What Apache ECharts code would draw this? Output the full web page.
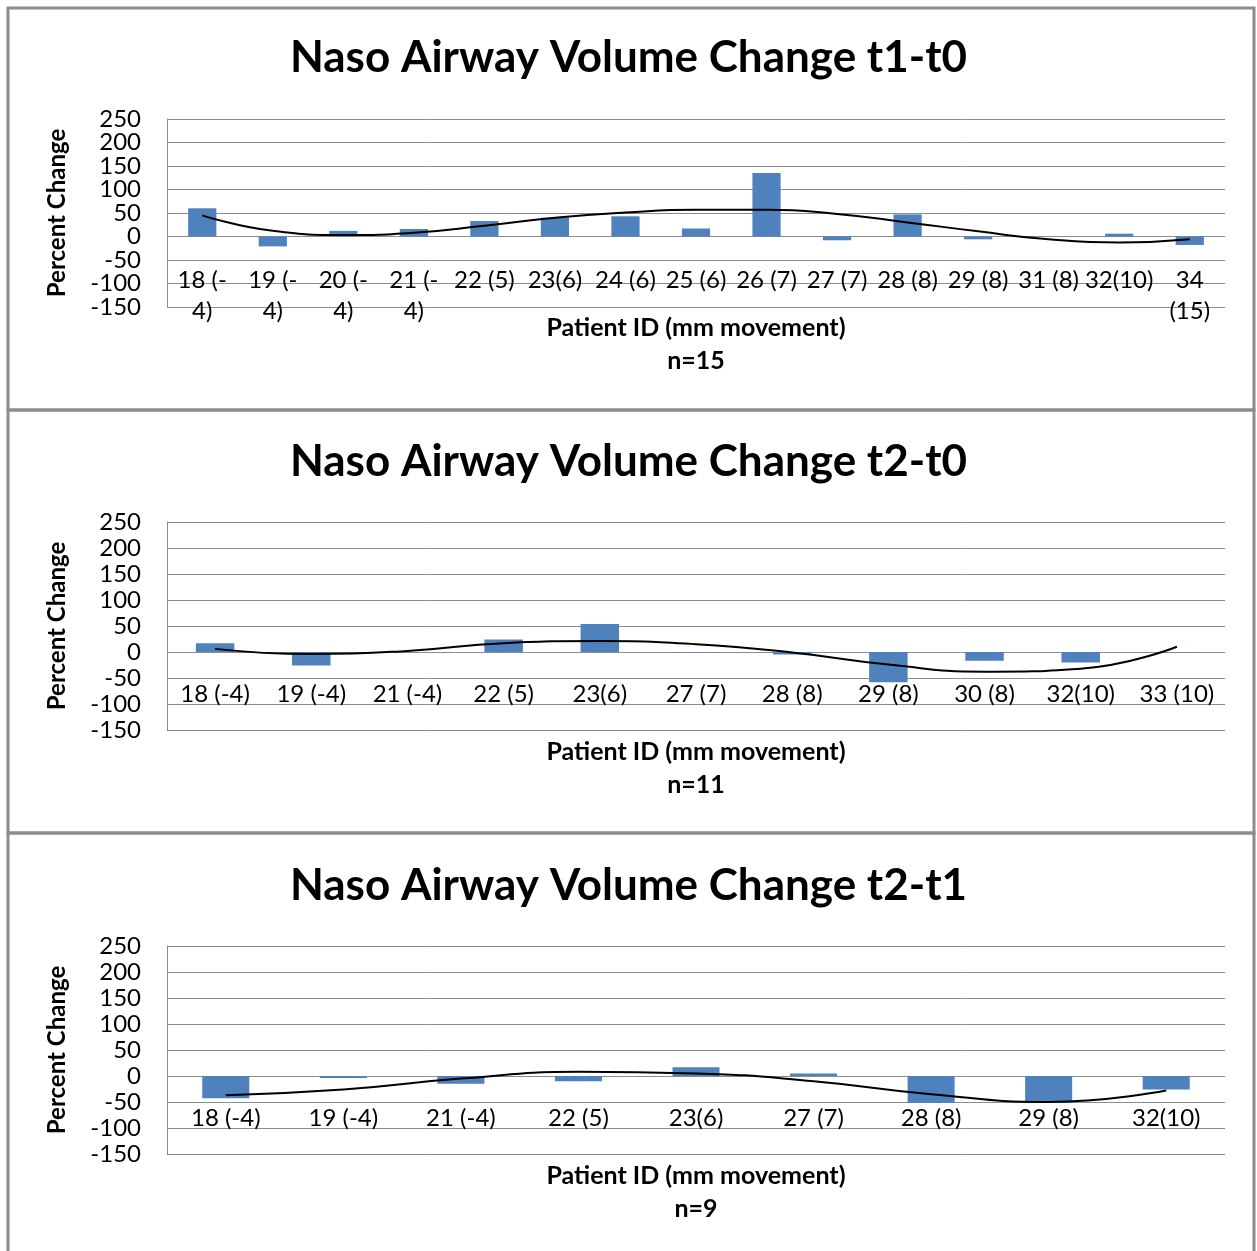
<!DOCTYPE html>
<html>
<head>
<meta charset="utf-8">
<title>Naso Airway Volume Change</title>
<script src="https://cdn.jsdelivr.net/npm/echarts@6/dist/echarts.min.js"></script>
<style>
    html, body { margin: 0; padding: 0; background: #fff; }
    #chart { width: 1257px; height: 1251px; }
</style>
</head>
<body>
<div id="chart"></div>
<script>
// t1-t0
var idsT1T0 = ['18 (-4)', '19 (-4)', '20 (-4)', '21 (-4)', '22 (5)', '23(6)', '24 (6)', '25 (6)',
    '26 (7)', '27 (7)', '28 (8)', '29 (8)', '31 (8)', '32(10)', '34 (15)'];
var changeT1T0 = [60, -21, 12, 16, 33, 40, 43, 17, 135, -8, 47, -6, 0, 6, -18];
var trendT1T0 = [45, 12, 3, 8, 23, 40, 51, 57, 57, 48, 30, 11, -6, -13, -6];

// t2-t0
var idsT2T0 = ['18 (-4)', '19 (-4)', '21 (-4)', '22 (5)', '23(6)', '27 (7)', '28 (8)', '29 (8)',
    '30 (8)', '32(10)', '33 (10)'];
var changeT2T0 = [17, -26, 0, 24, 54, -1, -5, -58, -17, -20, -1];
var trendT2T0 = [6, -4, 2, 17, 21, 15, -1, -24, -38, -32, 10];

// t2-t1
var idsT2T1 = ['18 (-4)', '19 (-4)', '21 (-4)', '22 (5)', '23(6)', '27 (7)', '28 (8)', '29 (8)', '32(10)'];
var changeT2T1 = [-43, -4, -15, -10, 17, 5, -52, -52, -26];
var trendT2T1 = [-37, -26, -5, 8, 5, -10, -35, -50, -28];

var yTicks = { min: -150, max: 250, interval: 50 };

var panels = [
    { title: 'Naso Airway Volume Change t1-t0', n: 'n=15', ids: idsT1T0, values: changeT1T0, trend: trendT1T0,
      titleTop: 33, gridTop: 119, gridHeight: 188, labelMargin: 28, nameGap: 75, wrap: true },
    { title: 'Naso Airway Volume Change t2-t0', n: 'n=11', ids: idsT2T0, values: changeT2T0, trend: trendT2T0,
      titleTop: 437, gridTop: 522, gridHeight: 208, labelMargin: 27, nameGap: 83, wrap: false },
    { title: 'Naso Airway Volume Change t2-t1', n: 'n=9', ids: idsT2T1, values: changeT2T1, trend: trendT2T1,
      titleTop: 861, gridTop: 946, gridHeight: 208, labelMargin: 27, nameGap: 83, wrap: false }
];

var font = 'Lato, "Open Sans", sans-serif';
var gridColor = '#8c8c8c';
var tickLabelStyle = { fontFamily: font, fontSize: 24, color: '#000' };

// excel wraps the long labels in the first chart
function wrapLabel(value) {
    if (value.length < 7) return value;
    if (value.indexOf('(-') >= 0) return value.replace('(-', '(-\n');
    return value.replace(' ', '\n');
}

var titles = [], grids = [], xAxes = [], yAxes = [], series = [];

panels.forEach(function (p, i) {
    // category labels sit under the zero line, not under the plot
    var zeroOffset = -p.gridHeight * (0 - yTicks.min) / (yTicks.max - yTicks.min);

    titles.push({
        text: p.title,
        left: 'center',
        top: p.titleTop,
        padding: 0,
        textStyle: { fontFamily: font, fontSize: 44, fontWeight: 'bold', color: '#000', lineHeight: 50 }
    });
    grids.push({ left: 167, right: 32, top: p.gridTop, height: p.gridHeight, outerBoundsMode: 'none' });
    xAxes.push({
        type: 'category',
        gridIndex: i,
        data: p.ids,
        position: 'bottom',
        offset: zeroOffset,
        axisLine: { show: false, onZero: false },
        axisTick: { show: false },
        axisLabel: Object.assign({
            interval: 0,
            margin: p.labelMargin,
            lineHeight: 31,
            formatter: p.wrap ? wrapLabel : null
        }, tickLabelStyle),
        name: 'Patient ID (mm movement)\n' + p.n,
        nameLocation: 'middle',
        nameGap: p.nameGap,
        nameMoveOverlap: false,
        nameTextStyle: { fontFamily: font, fontSize: 25, fontWeight: 'bold', color: '#000', lineHeight: 33 }
    });
    yAxes.push({
        type: 'value',
        gridIndex: i,
        position: 'left',
        min: yTicks.min,
        max: yTicks.max,
        interval: yTicks.interval,
        axisLine: { show: true, lineStyle: { color: gridColor, width: 1 } },
        axisTick: { show: false },
        splitLine: { show: true, lineStyle: { color: gridColor, width: 1 } },
        axisLabel: Object.assign({ margin: 26, showMinLabel: true, showMaxLabel: true }, tickLabelStyle),
        name: 'Percent Change',
        nameLocation: 'middle',
        nameRotate: 90,
        nameGap: 98,
        nameTextStyle: { fontFamily: font, fontSize: 24, fontWeight: 'bold', color: '#000' }
    });
    series.push({
        type: 'bar',
        xAxisIndex: i,
        yAxisIndex: i,
        data: p.values,
        barWidth: '40%',
        itemStyle: { color: '#4f81bd' },
        silent: true
    });
    series.push({
        type: 'line',
        xAxisIndex: i,
        yAxisIndex: i,
        data: p.trend,
        smooth: true,
        showSymbol: false,
        lineStyle: { color: '#000', width: 2 },
        z: 5,
        silent: true
    });
});

// the first chart is short, so echarts drops the labels next to 250 and -150;
// a bare second axis on the same grid puts them back
yAxes.push({
    type: 'value',
    gridIndex: 0,
    position: 'left',
    min: yTicks.min,
    max: yTicks.max,
    interval: yTicks.interval,
    axisLine: { show: false },
    axisTick: { show: false },
    splitLine: { show: false },
    axisLabel: Object.assign({
        margin: 26,
        showMinLabel: false,
        showMaxLabel: false,
        formatter: function (v) {
            return (v === yTicks.max - yTicks.interval || v === yTicks.min + yTicks.interval) ? String(v) : '';
        }
    }, tickLabelStyle)
});

// panel frames
var frames = [[8, 8, 1246, 402], [8, 410, 1246, 423], [8, 833, 1246, 430]].map(function (r) {
    return {
        type: 'rect',
        shape: { x: r[0], y: r[1], width: r[2], height: r[3] },
        style: { fill: 'none', stroke: '#8c8c8c', lineWidth: 3 },
        silent: true
    };
});

var chart = echarts.init(document.getElementById('chart'), null, { renderer: 'canvas' });
chart.setOption({
    backgroundColor: '#fff',
    animation: false,
    title: titles,
    grid: grids,
    xAxis: xAxes,
    yAxis: yAxes,
    series: series,
    graphic: frames
});
</script>
</body>
</html>
